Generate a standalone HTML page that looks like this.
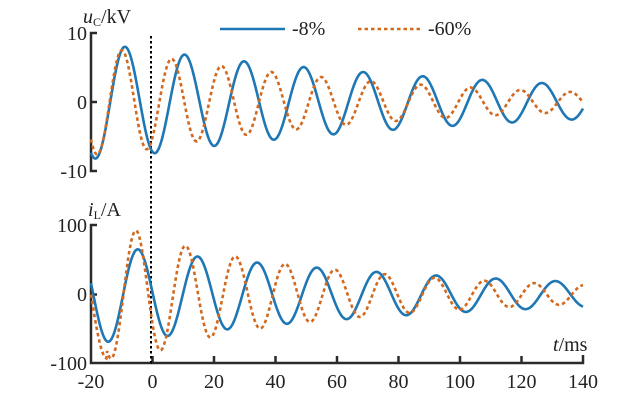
<!DOCTYPE html>
<html><head><meta charset="utf-8"><style>
html,body{margin:0;padding:0;background:#fff;}
svg{display:block;font-family:"Liberation Serif",serif;}
</style></head><body>
<svg id="s" width="640" height="403" viewBox="0 0 640 403" xmlns="http://www.w3.org/2000/svg">
<g stroke="#2a2a2a" stroke-width="2.5" fill="none">
<path d="M97,33 H91 V171 H97 M91,102 H97"/>
<path d="M97,225 H91 V363 H583 V355"/>
<path d="M152.5,363 V356 M214,363 V356 M275.5,363 V356 M337,363 V356 M398.5,363 V356 M460,363 V356 M521.5,363 V356 M91,294.5 H97"/>
</g>
<line x1="151" y1="36" x2="151" y2="366" stroke="#000" stroke-width="2" stroke-dasharray="2.5,2.5"/>
<g id="curves" fill="none" stroke-width="2.6"></g>
<g font-size="20" fill="#222">
<text x="87" y="40" text-anchor="end">10</text>
<text x="87" y="109" text-anchor="end">0</text>
<text x="87" y="178" text-anchor="end">-10</text>
<text x="87" y="232" text-anchor="end">100</text>
<text x="87" y="301" text-anchor="end">0</text>
<text x="87" y="370" text-anchor="end">-100</text>
<g text-anchor="middle">
<text x="91" y="388">-20</text><text x="152.5" y="388">0</text><text x="214" y="388">20</text>
<text x="275.5" y="388">40</text><text x="337" y="388">60</text><text x="398.5" y="388">80</text>
<text x="460" y="388">100</text><text x="521.5" y="388">120</text><text x="583" y="388">140</text>
</g>
<text x="83" y="23"><tspan font-style="italic">u</tspan><tspan font-size="12" dy="3">C</tspan><tspan dy="-3">/kV</tspan></text>
<text x="88" y="216"><tspan font-style="italic">i</tspan><tspan font-size="12" dy="3">L</tspan><tspan dy="-3">/A</tspan></text>
<text x="553" y="351"><tspan font-style="italic">t</tspan>/ms</text>
<text x="292" y="35">-8%</text>
<text x="428" y="35">-60%</text>
</g>
<line x1="220" y1="29" x2="285" y2="29" stroke="#1f77b4" stroke-width="2.6"/>
<line x1="358" y1="29" x2="420" y2="29" stroke="#d2691e" stroke-width="2.6" stroke-dasharray="3.5,3"/>
</svg>
<script>
var X=function(t){return 91+(t+20)*3.075;};
function mk(f,yz,sc,col,dash){var d="";for(var t=-20;t<=140.01;t+=0.25){var x=X(t),y=yz-f(t)*sc;d+=(d?"L":"M")+x.toFixed(2)+","+y.toFixed(2);}
var p=document.createElementNS("http://www.w3.org/2000/svg","path");p.setAttribute("d",d);p.setAttribute("stroke",col);if(dash)p.setAttribute("stroke-dasharray",dash);document.getElementById("curves").appendChild(p);}
var PI2=2*Math.PI;
mk(function(t){return Math.min(8.2,8*Math.exp(-(t+8.9)/127))*Math.cos(PI2*(t+8.9)/19.37);},102,6.9,"#1f77b4");
mk(function(t){return Math.min(7.6,7.5*Math.exp(-(t+9.9)/89))*Math.cos(PI2*(t+9.9)/16.2);},102,6.9,"#d2691e","3.5,3");
mk(function(t){return Math.min(68,65*Math.exp(-(t+4.7)/112))*Math.cos(PI2*(t+4.7)/19.4);},294.5,0.695,"#1f77b4");
mk(function(t){var u=t+5.4;var a=75*Math.exp(-u/85)+18*Math.exp(-Math.max(u,0)/20);a=Math.min(a,92);
 var ph=PI2*u/16.2; if(t<-14.8){ph=-Math.PI+(t+14.8)/5.2*(Math.PI/2);}
 return a*Math.cos(ph);},294.5,0.695,"#d2691e","3.5,3");
</script>
</body></html>
